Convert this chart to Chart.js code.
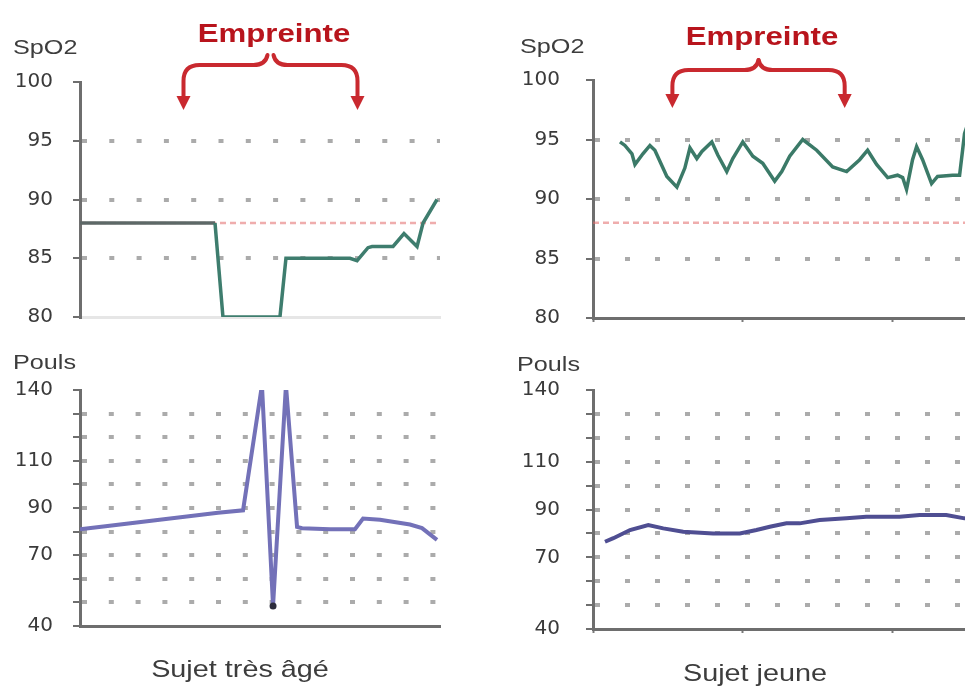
<!DOCTYPE html>
<html>
<head>
<meta charset="utf-8">
<script src="https://cdn.jsdelivr.net/npm/chart.js@4.4.1/dist/chart.umd.min.js"></script>
<style>
  html, body { margin: 0; padding: 0; background: #fff; overflow: hidden; }
  #page { position: relative; width: 965px; height: 689px; overflow: hidden; }
  canvas { position: absolute; }
  .lbl { position: absolute; font-family: 'Liberation Sans', Arial, sans-serif; color: #3d3d3d;
         line-height: 1; white-space: nowrap; transform: scaleX(1.2); }
  .left { transform-origin: 0 0; font-size: 21px; }
  .mid { width: 300px; text-align: center; transform-origin: 50% 0; font-size: 24px; }
  .emp { font-weight: bold; color: #b8141c; font-size: 26px; }
</style>
</head>
<body>
<div id="page">
  <canvas id="spo2Old" width="480" height="340" style="left:0;top:0"></canvas>
  <canvas id="spo2Young" width="520" height="340" style="left:480px;top:0"></canvas>
  <canvas id="poulsOld" width="480" height="349" style="left:0;top:340px"></canvas>
  <canvas id="poulsYoung" width="520" height="349" style="left:480px;top:340px"></canvas>

  <div class="lbl left" style="left:13px;top:36px">SpO2</div>
  <div class="lbl left" style="left:520px;top:35px">SpO2</div>
  <div class="lbl left" style="left:13px;top:351px">Pouls</div>
  <div class="lbl left" style="left:517px;top:353px">Pouls</div>
  <div class="lbl mid emp" style="left:124px;top:20px">Empreinte</div>
  <div class="lbl mid emp" style="left:612px;top:23px">Empreinte</div>
  <div class="lbl mid" style="left:90px;top:657px">Sujet très âgé</div>
  <div class="lbl mid" style="left:605px;top:661px">Sujet jeune</div>
</div>

<script>
// time axis in minutes (arbitrary units)
const oldSpo2X = [0, 9.0, 9.53, 13.33, 13.73, 18.0, 18.47, 19.2, 19.47, 20.87, 21.6, 22.47, 22.87, 23.8];
const oldSpo2Y = [88, 88, 80, 80, 85, 85, 84.8, 85.9, 86, 86, 87.1, 86, 88, 90];

const youngSpo2X = [1.8, 2.13, 2.6, 2.8, 3.33, 3.8, 4.13, 4.93, 5.6, 6.13, 6.47, 6.93, 7.27, 7.93, 8.33, 8.93,
  9.33, 10.0, 10.67, 11.33, 12.13, 12.6, 13.13, 14.0, 14.93, 16.0, 16.93, 17.8, 18.33, 18.93, 19.67, 20.33,
  20.67, 20.93, 21.33, 21.6, 22.0, 22.6, 23.0, 24.0, 24.47, 24.67, 24.8, 25.2];
const youngSpo2Y = [94.8, 94.5, 93.8, 92.9, 93.8, 94.5, 94.1, 91.9, 91.0, 92.6, 94.3, 93.4, 94.0, 94.8, 93.7, 92.3,
  93.4, 94.8, 93.6, 93.0, 91.5, 92.3, 93.6, 95.0, 94.1, 92.7, 92.3, 93.3, 94.1, 92.9, 91.8, 92.0,
  91.8, 90.8, 93.3, 94.4, 93.3, 91.3, 91.9, 92.0, 92.0, 94.1, 95.5, 97];

const oldPoulsX = [0, 1.7, 9.2, 10.87, 12.13, 12.87, 13.73, 14.47, 14.8, 16.67, 18.33, 18.87, 20, 22, 22.8, 23.8];
const oldPoulsY = [81, 82.3, 88, 89, 142, 48.5, 142, 82, 81.4, 81, 81, 85.5, 85, 83, 81.5, 76.5];

const youngPoulsX = [0.8, 1.36, 2.47, 3.69, 4.69, 6.02, 8.02, 9.8, 10.91, 11.8, 12.91, 13.8, 15.13, 16.91,
  18.24, 20.47, 21.8, 23.58, 24.8, 26.5];
const youngPoulsY = [76.5, 78, 81.4, 83.5, 82.1, 80.7, 80, 80, 81.4, 82.8, 84.2, 84.2, 85.6, 86.3,
  87, 87, 87.7, 87.7, 86.3, 86];

const spo2Ticks = [100, 95, 90, 85, 80];
const poulsTicks = [140, 110, 90, 70, 40];
const spo2Threshold = 88;
const empreinteOld = [6.9, 18.5];
const empreinteYoung = [5.3, 16.8];

const toPoints = (xs, ys) => xs.map((x, i) => ({ x: x, y: ys[i] }));

// curly brace with two arrows above the plot
const bracePlugin = {
  id: 'brace',
  afterDraw(chart, args, opts) {
    if (!opts.range) return;
    const ctx = chart.ctx;
    const xs = chart.scales.x;
    const x0 = xs.getPixelForValue(opts.range[0]);
    const x1 = xs.getPixelForValue(opts.range[1]);
    const cx = (x0 + x1) / 2;
    const { peak, bar, tip, gap } = opts;
    ctx.save();
    ctx.strokeStyle = '#c9292f';
    ctx.fillStyle = '#c9292f';
    ctx.lineWidth = 4;
    ctx.lineCap = 'round';
    ctx.lineJoin = 'round';
    [[x0, -1], [x1, 1]].forEach(([xe, s]) => {
      ctx.beginPath();
      ctx.moveTo(cx + s * gap, peak);
      ctx.quadraticCurveTo(cx + s * (gap + 2), bar, cx + s * (gap + 14), bar);
      ctx.lineTo(xe - s * 16, bar);
      ctx.quadraticCurveTo(xe, bar, xe, bar + 16);
      ctx.lineTo(xe, tip - 12);
      ctx.stroke();
      ctx.beginPath();
      ctx.moveTo(xe - 7, tip - 14);
      ctx.lineTo(xe + 7, tip - 14);
      ctx.lineTo(xe, tip);
      ctx.closePath();
      ctx.fill();
    });
    ctx.restore();
  }
};

function buildChart(id, o) {
  const datasets = [{
    data: toPoints(o.xs, o.ys),
    borderColor: o.color,
    borderWidth: o.lineWidth,
    pointRadius: o.pointRadius || 0,
    pointBackgroundColor: '#2c2c3c',
    pointBorderWidth: 0,
    tension: 0,
    segment: o.segColor ? { borderColor: o.segColor } : undefined
  }];
  if (o.threshold !== undefined) {
    datasets.push({
      data: [{ x: 0, y: o.threshold }, { x: o.xMax, y: o.threshold }],
      borderColor: 'rgba(225,105,105,0.55)',
      borderWidth: 2.5,
      borderDash: [6, 4],
      pointRadius: 0
    });
  }
  return new Chart(document.getElementById(id), {
    type: 'line',
    data: { datasets: datasets },
    plugins: [bracePlugin],
    options: {
      responsive: false,
      animation: false,
      layout: { padding: { top: o.padTop, right: o.padRight, left: 0, bottom: 0 } },
      plugins: {
        legend: { display: false },
        tooltip: { enabled: false },
        brace: o.brace || {}
      },
      scales: {
        x: {
          type: 'linear', min: 0, max: o.xMax,
          ticks: { display: false, stepSize: 10 },
          grid: { display: !!o.xTicks, drawOnChartArea: false, tickLength: 4, tickColor: '#7a7a7a', tickWidth: 2 },
          border: { color: o.bottomColor, width: 3 },
          afterFit: s => { s.height = o.xH; }
        },
        y: {
          min: o.yMin, max: o.yMax,
          ticks: {
            stepSize: o.yStep, autoSkip: false,
            callback: v => o.yLabels.includes(v) ? String(v) : '',
            font: { family: 'DejaVu Sans', size: 20 },
            color: '#3a3a3a',
            padding: o.labelPad
          },
          grid: {
            color: c => (c.tick && (c.tick.value === o.yMin || c.tick.value === o.yMax)) ? 'rgba(0,0,0,0)' : '#ababab',
            lineWidth: 4,
            tickLength: 7,
            tickColor: '#6e6e6e',
            tickWidth: 2
          },
          border: { color: '#6e6e6e', width: 3, dash: o.dash },
          afterFit: s => { s.width = o.axisW; s.paddingTop = 0; s.paddingBottom = 0; }
        }
      }
    }
  });
}

buildChart('spo2Old', {
  xs: oldSpo2X, ys: oldSpo2Y, color: '#3e7d6e', lineWidth: 3.5,
  segColor: c => c.p0DataIndex === 0 ? '#5d6867' : undefined,
  yMin: 80, yMax: 100, yStep: 5, yLabels: spo2Ticks, threshold: spo2Threshold,
  axisW: 80, padTop: 82, padRight: 40, xH: 23, xMax: 24, bottomColor: '#e6e6e6',
  dash: [5, 22.3], labelPad: 20,
  brace: { range: empreinteOld, peak: 55, bar: 65, tip: 110, gap: 3 }
});

buildChart('spo2Young', {
  xs: youngSpo2X, ys: youngSpo2Y, color: '#3b7a68', lineWidth: 3.5,
  yMin: 80, yMax: 100, yStep: 5, yLabels: spo2Ticks, threshold: spo2Threshold,
  axisW: 113, padTop: 80, padRight: 10, xH: 22, xMax: 26.5, bottomColor: '#6e6e6e', xTicks: true,
  dash: [5, 25], labelPad: 26,
  brace: { range: empreinteYoung, peak: 60, bar: 70, tip: 108, gap: 0 }
});

buildChart('poulsOld', {
  xs: oldPoulsX, ys: oldPoulsY, color: '#7371b8', lineWidth: 4,
  pointRadius: c => c.dataIndex === 5 ? 3.5 : 0,
  yMin: 40, yMax: 140, yStep: 10, yLabels: poulsTicks,
  axisW: 80, padTop: 50, padRight: 40, xH: 63, xMax: 24, bottomColor: '#6e6e6e',
  dash: [5, 21.8], labelPad: 20
});

buildChart('poulsYoung', {
  xs: youngPoulsX, ys: youngPoulsY, color: '#4f4e92', lineWidth: 4,
  yMin: 40, yMax: 140, yStep: 10, yLabels: poulsTicks,
  axisW: 113, padTop: 50, padRight: 10, xH: 60, xMax: 26.5, bottomColor: '#6e6e6e', xTicks: true,
  dash: [5, 25], labelPad: 26
});
</script>
</body>
</html>
